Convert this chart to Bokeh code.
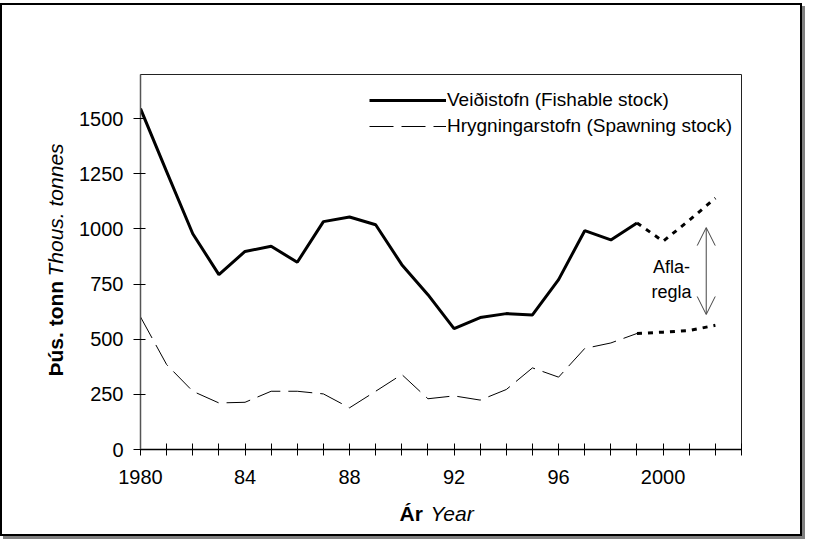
from bokeh.plotting import figure
from bokeh.models import (Range1d, FixedTicker, Legend, LegendItem, Label, Arrow, OpenHead)
from bokeh.core.properties import value
from bokeh.embed import file_html
from bokeh.resources import INLINE
import math

# ---- data (thousand tonnes) ----
years = [1980, 1981, 1982, 1983, 1984, 1985, 1986, 1987, 1988, 1989,
         1990, 1991, 1992, 1993, 1994, 1995, 1996, 1997, 1998, 1999]
fishable = [1545, 1260, 978, 793, 898, 921, 849, 1033, 1054, 1019,
            838, 702, 548, 598, 616, 610, 770, 992, 950, 1027]
spawning = [601, 385, 264, 211, 214, 264, 264, 252, 189, 264,
            340, 230, 243, 224, 272, 370, 328, 458, 483, 526]
proj_years = [1999, 2000, 2001, 2002]
fishable_proj = [1027, 944, 1039, 1140]
spawning_proj = [526, 532, 539, 563]

x_ticks = list(range(1980, 2004))
x_tick_labels = {1980: "1980", 1984: "84", 1988: "88", 1992: "92", 1996: "96", 2000: "2000"}
y_ticks = [0, 250, 500, 750, 1000, 1250, 1500]

legend_labels = ["Veiðistofn (Fishable stock)", "Hrygningarstofn (Spawning stock)"]
ylabel_bold, ylabel_ital = "Þús. tonn", "Thous. tonnes"
xlabel_bold, xlabel_ital = "Ár", "Year"
rule_text = ["Afla-", "regla"]
rule_range = [612, 1006]   # span of the catch-rule arrow (thous. tonnes)

FONT = "Liberation Sans"
X0, X1, Y0, Y1 = 1980, 2003, 0, 1700

p = figure(width=802, height=533, x_range=Range1d(X0, X1), y_range=Range1d(Y0, Y1),
           output_backend="svg", toolbar_location=None,
           min_border_left=138, min_border_right=63, min_border_top=69, min_border_bottom=89)
p.margin = (3, 0, 0, 0)
p.styles = {"border": "2px solid black", "box-shadow": "3px 3px 0 0 #808080"}

p.xgrid.visible = False
p.ygrid.visible = False
p.outline_line_color = "#222222"
p.outline_line_width = 1

# axes
p.xaxis.ticker = FixedTicker(ticks=x_ticks)
p.xaxis.major_label_overrides = {t: x_tick_labels.get(t, "") for t in x_ticks}
p.yaxis.ticker = FixedTicker(ticks=y_ticks)
for ax in (p.xaxis[0], p.yaxis[0]):
    ax.axis_line_width = 1.5
    ax.major_tick_line_color = "black"
    ax.major_tick_line_width = 1
    ax.minor_tick_line_color = None
    ax.major_label_text_font = FONT
    ax.major_label_text_font_size = "20px"
    ax.major_label_text_color = "black"
p.xaxis.axis_line_color = "black"
p.yaxis.axis_line_color = "#555555"
p.xaxis.major_tick_in = 6
p.xaxis.major_tick_out = 6
p.xaxis.major_label_standoff = 14
p.yaxis.major_tick_in = 5
p.yaxis.major_tick_out = 7
p.yaxis.major_label_standoff = 10

# lines
r1 = p.line(years, fishable, line_color="black", line_width=3)
r2 = p.line(years, spawning, line_color="black", line_width=1, line_dash="24 8")
p.line(proj_years, fishable_proj, line_color="black", line_width=3, line_dash="5 6")
p.line(proj_years, spawning_proj, line_color="black", line_width=3, line_dash="5 6")

legend = Legend(items=[LegendItem(label=legend_labels[0], renderers=[r1]),
                       LegendItem(label=legend_labels[1], renderers=[r2])],
                location=(229, 310), padding=0, margin=0, spacing=0,
                glyph_width=77, glyph_height=26, label_height=26, label_standoff=1,
                border_line_color=None, background_fill_alpha=0,
                label_text_font=FONT, label_text_font_size="19px", label_text_color="black")
p.add_layout(legend, "center")

# axis titles: text glyphs anchored at the axis origin, offset in pixels, drawn unclipped
def title_text(txt, style, angle, dx, dy):
    p.text(x=[X0], y=[Y0], text=[txt], angle=angle, x_offset=dx, y_offset=dy,
           text_font=value(FONT), text_font_size="21px", text_font_style=style,
           text_align="left", text_baseline="middle", text_color="black", level="overlay")

title_text(ylabel_bold, "bold", math.pi / 2, -85, -73)
title_text(ylabel_ital, "italic", math.pi / 2, -85, -173)
title_text(xlabel_bold, "bold", 0, 259, 64)
title_text(xlabel_ital, "italic", 0, 290, 64)

# catch-rule annotation
p.add_layout(Label(x=531, y=183, x_units="screen", y_units="screen", text=rule_text[0],
                   text_align="center", text_baseline="middle", text_font=FONT, text_font_size="18px",
                   text_color="black"))
p.add_layout(Label(x=531, y=158, x_units="screen", y_units="screen", text=rule_text[1],
                   text_align="center", text_baseline="middle", text_font=FONT, text_font_size="18px",
                   text_color="black"))
p.add_layout(Arrow(x_start=2001.65, y_start=rule_range[0], x_end=2001.65, y_end=rule_range[1],
                   line_color="#444444", line_width=1,
                   start=OpenHead(size=18, line_color="#444444", line_width=1),
                   end=OpenHead(size=18, line_color="#444444", line_width=1)))

open("out.html", "w").write(file_html(p, INLINE))
